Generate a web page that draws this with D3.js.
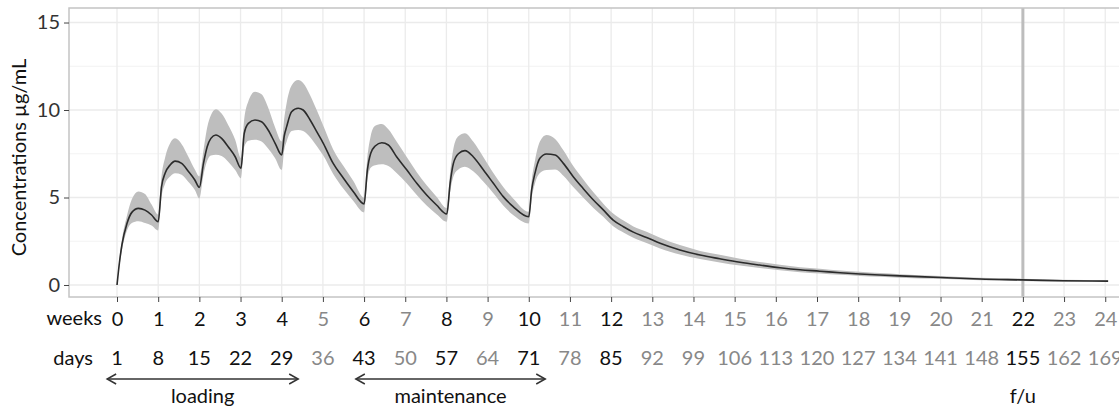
<!DOCTYPE html>
<html>
<head>
<meta charset="utf-8">
<script src="https://cdn.jsdelivr.net/npm/d3@7"></script>
<style>
  body { margin: 0; background: #fff; }
  svg { display: block; font-family: Lato, sans-serif; }
</style>
</head>
<body>
<div id="container"></div>
<script>
let width = 1119
let height = 406

// panel edges (right side runs past the window, as in the original crop)
margin = ({ top: 8, right: -6, bottom: 109, left: 69 })

// time in weeks since first dose
const time = [0, 0.06, 0.12, 0.24, 0.36, 0.52, 0.68, 0.84,
  1.00, 1.08, 1.17, 1.29, 1.41, 1.57, 1.73, 1.89,
  2.00, 2.10, 2.19, 2.28, 2.40, 2.54, 2.70, 2.87,
  3.01, 3.09, 3.19, 3.35, 3.51, 3.67, 3.84,
  4.00, 4.06, 4.12, 4.24, 4.40, 4.52, 4.69, 4.85, 5.01, 5.25, 5.50, 5.74,
  6.00, 6.08, 6.16, 6.27, 6.43, 6.59, 6.79, 7.04, 7.28, 7.52, 7.76,
  8.01, 8.09, 8.17, 8.29, 8.45, 8.65, 8.90, 9.14, 9.38, 9.62,
  10.00, 10.07, 10.15, 10.27, 10.43, 10.64, 10.84, 11.08, 11.32, 11.57, 11.81,
  12.05, 12.30, 12.54, 12.86, 13.19, 13.67, 14.16, 14.64, 15.13, 15.61, 16.10,
  16.59, 17.07, 17.56, 18.04, 18.53, 19.01, 20.00, 20.96, 21.97, 22.98, 24.07]

const median = [0, 1.3, 2.3, 3.5, 4.15, 4.38, 4.28, 4.0,
  3.62, 5.6, 6.4, 6.86, 7.08, 6.95, 6.5, 6.0,
  5.58, 6.95, 7.9, 8.38, 8.57, 8.38, 7.9, 7.33,
  6.67, 8.67, 9.24, 9.43, 9.33, 8.86, 8.1,
  7.43, 8.5, 9.05, 9.9, 10.1, 10.0, 9.43, 8.76, 8.1, 6.95, 6.1, 5.33,
  4.63, 6.57, 7.52, 7.94, 8.13, 8.0, 7.33, 6.57, 5.81, 5.14, 4.57,
  4.06, 5.81, 6.95, 7.5, 7.68, 7.33, 6.57, 5.81, 5.05, 4.48,
  3.9, 5.43, 6.38, 7.24, 7.49, 7.43, 6.95, 6.19, 5.52, 4.86, 4.29,
  3.71, 3.33, 3.02, 2.72, 2.38, 2.0, 1.71, 1.5, 1.3, 1.14, 0.99,
  0.87, 0.79, 0.7, 0.63, 0.57, 0.52, 0.43, 0.34, 0.29, 0.24, 0.22]

const lower = [0, 1.1, 2.0, 3.1, 3.55, 3.65, 3.55, 3.4,
  3.12, 5.0, 5.8, 6.2, 6.38, 6.3, 5.9, 5.43,
  4.95, 6.3, 7.1, 7.4, 7.45, 7.37, 7.05, 6.57,
  6.1, 7.9, 8.25, 8.3, 8.2, 7.8, 7.24,
  6.57, 7.7, 8.2, 8.8, 8.86, 8.8, 8.45, 7.95, 7.4, 6.35, 5.5, 4.8,
  4.15, 6.0, 6.7, 6.85, 6.9, 6.8, 6.4, 5.8, 5.15, 4.55, 4.05,
  3.62, 5.3, 6.2, 6.6, 6.76, 6.5, 5.9, 5.25, 4.55, 4.0,
  3.52, 4.95, 5.8, 6.4, 6.57, 6.6, 6.25, 5.6, 5.0, 4.4, 3.9,
  3.36, 3.0, 2.7, 2.4, 2.08, 1.74, 1.48, 1.29, 1.11, 0.97, 0.84,
  0.73, 0.66, 0.58, 0.52, 0.47, 0.42, 0.35, 0.27, 0.23, 0.19, 0.18]

const upper = [0, 1.5, 2.6, 3.95, 4.9, 5.35, 5.2, 4.6,
  4.02, 6.2, 7.3, 8.1, 8.38, 8.05, 7.35, 6.6,
  6.2, 7.7, 9.0, 9.7, 10.05, 9.8, 9.15, 8.3,
  7.25, 9.5, 10.5, 11.05, 10.9, 10.15, 9.0,
  8.2, 9.5, 10.4, 11.4, 11.71, 11.55, 10.85, 10.0, 9.1, 7.75, 6.8, 5.95,
  5.0, 7.3, 8.5, 9.1, 9.2, 8.9, 8.2, 7.3, 6.45, 5.7, 5.05,
  4.4, 6.4, 7.8, 8.5, 8.67, 8.2, 7.3, 6.4, 5.6, 4.95,
  4.19, 5.95, 7.1, 8.2, 8.57, 8.35, 7.7, 6.8, 6.05, 5.3, 4.65,
  4.08, 3.68, 3.35, 3.04, 2.7, 2.28, 1.95, 1.73, 1.5, 1.32, 1.16,
  1.02, 0.93, 0.83, 0.75, 0.68, 0.62, 0.52, 0.42, 0.36, 0.3, 0.27]

// axis labels
const weekTicks = d3.range(0, 25)
const dayTicks = [1, 8, 15, 22, 29, 36, 43, 50, 57, 64, 71, 78, 85, 92, 99, 106,
  113, 120, 127, 134, 141, 148, 155, 162, 169]
const doseWeeks = [0, 1, 2, 3, 4, 6, 8, 10, 12, 22]
const yTicks = [0, 5, 10, 15]
const followUpWeek = 22

const phases = [
  { name: "loading", from: -0.24, to: 4.4 },
  { name: "maintenance", from: 5.8, to: 10.4 }
]

const data = time.map((t, i) => ({ t, med: median[i], lo: lower[i], hi: upper[i] }))

let x = d3.scaleLinear()
  .domain([-1.166, 24.48])
  .range([margin.left, width - margin.right])

let y = d3.scaleLinear()
  .domain([-0.686, 15.83])
  .range([height - margin.bottom, margin.top])

let svg = d3.select("#container")
  .append("svg")
  .attr("width", width)
  .attr("height", height)

const x0 = margin.left, x1 = width - margin.right
const yTop = margin.top, yBot = height - margin.bottom

// minor grid
svg.append("g")
  .selectAll("line")
  .data([2.5, 7.5, 12.5])
  .join("line")
  .attr("x1", x0).attr("x2", x1)
  .attr("y1", d => y(d)).attr("y2", d => y(d))
  .attr("stroke", "#f3f3f3")
  .attr("stroke-width", 1)

// major grid
svg.append("g")
  .selectAll("line")
  .data(yTicks)
  .join("line")
  .attr("x1", x0).attr("x2", x1)
  .attr("y1", d => y(d)).attr("y2", d => y(d))
  .attr("stroke", "#ebebeb")
  .attr("stroke-width", 1.3)

svg.append("g")
  .selectAll("line")
  .data(weekTicks)
  .join("line")
  .attr("x1", d => x(d)).attr("x2", d => x(d))
  .attr("y1", yTop).attr("y2", yBot)
  .attr("stroke", "#ebebeb")
  .attr("stroke-width", 1.3)

// follow-up marker
svg.append("line")
  .attr("x1", x(followUpWeek)).attr("x2", x(followUpWeek))
  .attr("y1", yTop).attr("y2", yBot)
  .attr("stroke", "#bdbdbd")
  .attr("stroke-width", 3)

// ribbon
let area = d3.area()
  .x(d => x(d.t))
  .y0(d => y(d.lo))
  .y1(d => y(d.hi))
  .curve(d3.curveMonotoneX)

svg.append("path")
  .datum(data)
  .attr("fill", "#bebebe")
  .attr("d", area)

let line = d3.line()
  .x(d => x(d.t))
  .y(d => y(d.med))
  .curve(d3.curveMonotoneX)

svg.append("path")
  .datum(data)
  .attr("fill", "none")
  .attr("stroke", "#2b2b2b")
  .attr("stroke-width", 1.6)
  .attr("stroke-linejoin", "round")
  .attr("d", line)

// panel border
svg.append("rect")
  .attr("x", x0).attr("y", yTop)
  .attr("width", x1 - x0).attr("height", yBot - yTop)
  .attr("fill", "none")
  .attr("stroke", "#c4c4c4")
  .attr("stroke-width", 1.5)

// Y Axis
svg.append("g")
  .attr("transform", `translate(${x0},0)`)
  .call(d3.axisLeft(y).tickValues(yTicks).tickSize(5).tickPadding(4))
  .call(g => g.select(".domain").remove())
  .call(g => g.selectAll(".tick line").attr("stroke", "#444"))
  .call(g => g.selectAll(".tick text")
    .attr("font-size", 20)
    .attr("font-family", "Lato, sans-serif")
    .attr("fill", "#333"))

svg.append("text")
  .attr("transform", `translate(26,${(yTop + yBot) / 2 + 5}) rotate(-90)`)
  .attr("text-anchor", "middle")
  .attr("font-size", 20)
  .attr("fill", "#111")
  .text("Concentrations µg/mL")

// X Axis (weeks)
const tickColor = w => doseWeeks.includes(w) ? "#111" : "#888"

svg.append("g")
  .attr("transform", `translate(0,${yBot})`)
  .call(d3.axisBottom(x).tickValues(weekTicks).tickSize(5).tickPadding(10))
  .call(g => g.select(".domain").remove())
  .call(g => g.selectAll(".tick line").attr("stroke", "#444"))
  .call(g => g.selectAll(".tick text")
    .attr("font-size", 20)
    .attr("font-family", "Lato, sans-serif")
    .attr("fill", d => tickColor(d)))

// days row
svg.append("g")
  .selectAll("text")
  .data(weekTicks)
  .join("text")
  .attr("x", d => x(d))
  .attr("y", 365)
  .attr("text-anchor", "middle")
  .attr("font-size", 20)
  .attr("fill", d => tickColor(d))
  .text((d, i) => dayTicks[i])

svg.append("text")
  .attr("x", 102).attr("y", 325)
  .attr("text-anchor", "end")
  .attr("font-size", 20)
  .attr("fill", "#111")
  .text("weeks")

svg.append("text")
  .attr("x", 93).attr("y", 365)
  .attr("text-anchor", "end")
  .attr("font-size", 20)
  .attr("fill", "#111")
  .text("days")

// phase arrows
const arrowY = 379
const ph = svg.append("g")
  .selectAll("g")
  .data(phases)
  .join("g")
  .attr("stroke", "#333")
  .attr("stroke-width", 1.5)
  .attr("fill", "none")

ph.append("line")
  .attr("x1", d => x(d.from)).attr("x2", d => x(d.to))
  .attr("y1", arrowY).attr("y2", arrowY)

ph.append("path")
  .attr("d", d => `M${x(d.from) + 9},${arrowY - 5}L${x(d.from)},${arrowY}L${x(d.from) + 9},${arrowY + 5}`)

ph.append("path")
  .attr("d", d => `M${x(d.to) - 9},${arrowY - 5}L${x(d.to)},${arrowY}L${x(d.to) - 9},${arrowY + 5}`)

svg.append("g")
  .selectAll("text")
  .data(phases)
  .join("text")
  .attr("x", d => (x(d.from) + x(d.to)) / 2)
  .attr("y", 403)
  .attr("text-anchor", "middle")
  .attr("font-size", 20)
  .attr("fill", "#111")
  .text(d => d.name)

svg.append("text")
  .attr("x", x(followUpWeek))
  .attr("y", 403)
  .attr("text-anchor", "middle")
  .attr("font-size", 20)
  .attr("fill", "#111")
  .text("f/u")
</script>
</body>
</html>
